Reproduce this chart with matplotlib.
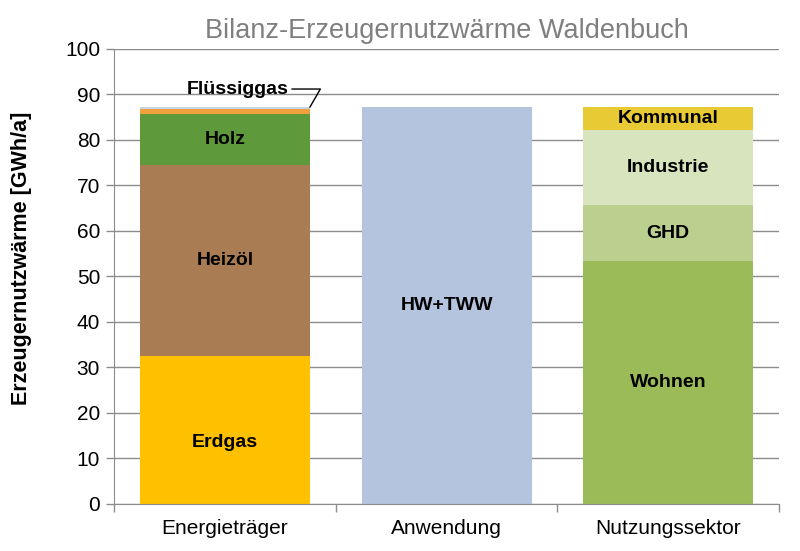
import matplotlib
matplotlib.use("Agg")
import matplotlib.pyplot as plt
import numpy as np

plt.rcParams["font.family"] = ["Liberation Sans", "DejaVu Sans"]

categories = ["Energieträger", "Anwendung", "Nutzungssektor"]

# stacked segments per category (GWh/a), bottom to top
energie_labels = ["Erdgas", "Heizöl", "Holz", "", "Flüssiggas"]
energie_values = [32.5, 42.0, 11.3, 1.1, 0.3]
energie_colors = ["#FFC000", "#A97C53", "#5E9A3B", "#F2A03D", "#C6D3E3"]

anwendung_labels = ["HW+TWW"]
anwendung_values = [87.2]
anwendung_colors = ["#B4C3DE"]

sektor_labels = ["Wohnen", "GHD", "Industrie", "Kommunal"]
sektor_values = [53.4, 12.3, 16.5, 5.0]
sektor_colors = ["#9BBB59", "#BBD08F", "#D8E4BD", "#E8CA34"]

# label nudges (data units) where the original label sits off-centre
label_shift = {"Erdgas": -2.8}

fig = plt.figure(figsize=(8.0, 5.51), dpi=100)
ax = fig.add_axes([0.1425, 0.0853, 0.8313, 0.8258])

x = np.arange(len(categories))
width = 0.767
stacks = [
    (energie_labels, energie_values, energie_colors),
    (anwendung_labels, anwendung_values, anwendung_colors),
    (sektor_labels, sektor_values, sektor_colors),
]

for xi, (labels, values, colors) in zip(x, stacks):
    bottom = 0.0
    for lab, val, col in zip(labels, values, colors):
        ax.bar(xi, val, width, bottom=bottom, color=col, zorder=2)
        if lab and val > 2:
            ax.text(xi, bottom + val / 2 + label_shift.get(lab, 0), lab,
                    ha="center", va="center",
                    fontsize=14, fontweight="bold", color="black", zorder=3)
        bottom += val

# small segment label with leader line
top1 = sum(energie_values)
ax.annotate("Flüssiggas", xy=(x[0] + width / 2, top1), xytext=(x[0] + 0.06, 91.2),
            ha="center", va="center", fontsize=14, fontweight="bold",
            arrowprops=dict(arrowstyle="-", color="black", lw=1,
                            shrinkA=0, shrinkB=0,
                            connectionstyle="angle,angleA=0,angleB=60,rad=0"),
            zorder=3)

ax.set_xlim(-0.5, 2.5)
ax.set_ylim(0, 100)
ax.set_yticks(np.arange(0, 101, 10))
ax.yaxis.grid(True, color="#8C8C8C", lw=1, zorder=0)
ax.set_axisbelow(True)

ax.set_xticks(x)
ax.set_xticklabels(categories, fontsize=15)
ax.tick_params(axis="x", length=0, pad=11)
ax.set_xticks([-0.5, 0.5, 1.5, 2.5], minor=True)
ax.tick_params(axis="x", which="minor", length=6, color="#8C8C8C", width=1)
ax.tick_params(axis="y", labelsize=15, length=6, color="#8C8C8C", width=1, pad=4)

for side in ("top", "right"):
    ax.spines[side].set_visible(False)
for side in ("left", "bottom"):
    ax.spines[side].set_color("#8C8C8C")

ax.set_ylabel("Erzeugernutzwärme [GWh/a]", fontsize=15.5, fontweight="bold")
ax.yaxis.set_label_coords(-0.124, 0.541)
ax.set_title("Bilanz-Erzeugernutzwärme Waldenbuch", fontsize=19.5, color="#7F7F7F", pad=8)

fig.savefig("out.png", dpi=100)
